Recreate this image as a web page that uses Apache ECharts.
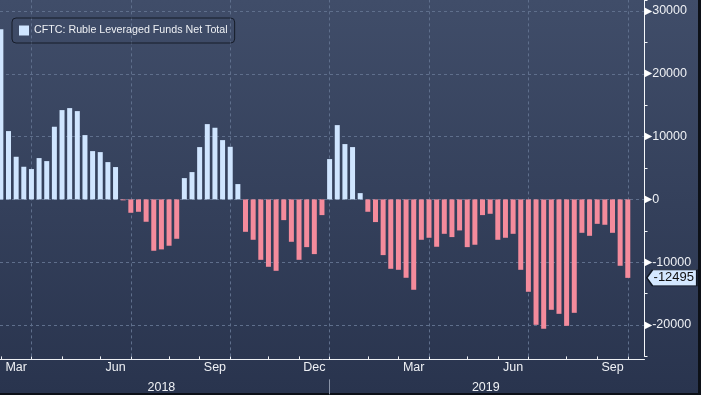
<!DOCTYPE html>
<html><head><meta charset="utf-8">
<script src="https://cdn.jsdelivr.net/npm/echarts@6/dist/echarts.min.js"></script>
<style>
html,body{margin:0;padding:0;background:#0d1118;}
#wrap{position:relative;width:701px;height:395px;overflow:hidden;background:#0d1118;}
#bg{position:absolute;left:0;top:0;width:698px;height:393px;background:linear-gradient(to bottom,#404d69 0%,#29344e 100%);}
#main{position:absolute;left:0;top:0;width:701px;height:395px;}
</style></head><body>
<div id="wrap"><div id="bg"></div><div id="main"></div></div>
<script>
const seriesName = 'CFTC: Ruble Leveraged Funds Net Total';
const dates = [
 '2018-02-27','2018-03-06','2018-03-13','2018-03-20','2018-03-27','2018-04-03','2018-04-10','2018-04-17','2018-04-24',
 '2018-05-01','2018-05-08','2018-05-15','2018-05-22','2018-05-29','2018-06-05','2018-06-12','2018-06-19','2018-06-26',
 '2018-07-03','2018-07-10','2018-07-17','2018-07-24','2018-07-31','2018-08-07','2018-08-14','2018-08-21','2018-08-28',
 '2018-09-04','2018-09-11','2018-09-18','2018-09-25','2018-10-02','2018-10-09','2018-10-16','2018-10-23','2018-10-30',
 '2018-11-06','2018-11-13','2018-11-20','2018-11-27','2018-12-04','2018-12-11','2018-12-18','2018-12-25',
 '2019-01-01','2019-01-08','2019-01-15','2019-01-22','2019-01-29','2019-02-05','2019-02-12','2019-02-19','2019-02-26',
 '2019-03-05','2019-03-12','2019-03-19','2019-03-26','2019-04-02','2019-04-09','2019-04-16','2019-04-23','2019-04-30',
 '2019-05-07','2019-05-14','2019-05-21','2019-05-28','2019-06-04','2019-06-11','2019-06-18','2019-06-25',
 '2019-07-02','2019-07-09','2019-07-16','2019-07-23','2019-07-30','2019-08-06','2019-08-13','2019-08-20','2019-08-27',
 '2019-09-03','2019-09-10','2019-09-17','2019-09-24'
];
const netTotal = [
 27100, 10880, 6790, 5200, 4830, 6580, 6100, 11570, 14220, 14540, 14060, 10240, 7690, 7530, 5940, 5150,
 -150, -2130, -1970, -3560, -8180, -7960, -7380, -6270, 3390, 4350, 8330, 11990, 11410, 9440, 8380, 2440,
 -5160, -6430, -9620, -10730, -11370, -3300, -6750, -9620, -7600, -8710, -2500, 6420, 11830, 8810, 8330, 1000,
 -1970, -3610, -8870, -11050, -11210, -12480, -14390, -6430, -6110, -7540, -5480, -6000, -4940, -7600, -7220,
 -2500, -2290, -6430, -6110, -5480, -11210, -14710, -19970, -20600, -17580, -18220, -20130, -18060,
 -5320, -5800, -3890, -4040, -5320, -10570, -12495
];
const quarterLabels = ['Mar','Jun','Sep','Dec','Mar','Jun','Sep'];
const quarterLabelDates = ['2018-03-13','2018-06-12','2018-09-11','2018-12-11','2019-03-12','2019-06-11','2019-09-10'];
const yearLabels = ['2018','2019'];
const yearLabelDates = ['2018-07-24','2019-05-17'];
const yearBoundaries = ['2018-12-25'];
const yTickLabels = [-20000,-10000,0,10000,20000,30000];

const DAY = 86400000;
const dayOf = s => Math.round((Date.UTC(+s.slice(0,4), +s.slice(5,7) - 1, +s.slice(8,10)) - Date.UTC(+dates[0].slice(0,4), +dates[0].slice(5,7) - 1, +dates[0].slice(8,10))) / DAY);
const POS = '#cfe5ff', NEG = '#f48b9c';
const TXT = '#eef0f4';
const FONT = 'Liberation Sans';
const GRIDC = '#5f6f8c';

const monthTicks = [];
dates.forEach((d, i) => {
  if (i === dates.length - 1 || dates[i + 1].slice(5, 7) !== d.slice(5, 7)) monthTicks.push(d);
});
const quarterTicks = monthTicks.filter(d => ['03','06','09','12'].includes(d.slice(5, 7)));

function lookup(v, keys, labels) {
  let best = 0, bd = Infinity;
  keys.forEach((k, i) => { const dd = Math.abs(dayOf(k) - v); if (dd < bd) { bd = dd; best = i; } });
  return labels[best];
}

const last = dates.length - 1;
const xMin = dayOf(dates[0]) - 0.79;
const xMax = dayOf(dates[last]) + 15.3;

const chart = echarts.init(document.getElementById('main'), null, {renderer: 'canvas'});
chart.setOption({
  animation: false,
  backgroundColor: 'transparent',
  textStyle: {fontFamily: FONT},
  legend: {
    show: true, left: 12, top: 18, padding: [7, 7, 7, 7],
    borderColor: '#161c29', borderWidth: 1, borderRadius: 4,
    icon: 'rect', itemWidth: 10, itemHeight: 10,
    textStyle: {color: TXT, fontSize: 10.7, fontFamily: FONT},
    data: [seriesName]
  },
  grid: {left: 0, right: 56.5, top: 0, bottom: 38.6, containLabel: false},
  xAxis: [{
    type: 'value', min: xMin, max: xMax, offset: 3,
    axisLine: {show: true, onZero: false, lineStyle: {color: TXT, width: 1}},
    axisTick: {show: true, inside: true, length: 3, customValues: monthTicks.map(dayOf), lineStyle: {color: TXT}},
    axisLabel: {show: true, customValues: quarterLabelDates.map(dayOf), margin: 2, color: TXT, fontSize: 12.5, fontFamily: FONT,
      formatter: v => lookup(v, quarterLabelDates, quarterLabels)},
    splitLine: {show: false}
  }, {
    type: 'value', min: xMin, max: xMax, position: 'bottom', offset: 23,
    axisLine: {show: false, onZero: false},
    axisTick: {show: true, length: 15, customValues: yearBoundaries.map(dayOf), lineStyle: {color: '#8a94a8'}},
    axisLabel: {show: true, customValues: yearLabelDates.map(dayOf), margin: 2, color: TXT, fontSize: 12.5, fontFamily: FONT,
      formatter: v => lookup(v, yearLabelDates, yearLabels)},
    splitLine: {show: false}
  }],
  yAxis: {
    type: 'value', position: 'right', min: -25000, max: 31752, interval: 5000,
    axisLine: {show: true, onZero: false, lineStyle: {color: '#f4f6f9', width: 1}},
    axisTick: {show: true, length: 3, lineStyle: {color: '#f4f6f9'}},
    axisLabel: {show: true, margin: 0, color: TXT, fontSize: 12.5, fontFamily: FONT,
      formatter: v => yTickLabels.includes(v) ? '{t|▶}' + v : '',
      rich: {t: {fontSize: 10, color: '#ffffff', fontFamily: 'DejaVu Sans', padding: [0, 0, 0, 0]}}},
    splitLine: {show: true, lineStyle: {type: [3, 3], width: 1, color: ['rgba(0,0,0,0)', GRIDC]}}
  },
  series: [{
    name: seriesName, type: 'bar', xAxisIndex: 0, yAxisIndex: 0,
    barWidth: 5, color: POS, z: 2,
    data: dates.map((d, i) => ({value: [dayOf(d), netTotal[i]], itemStyle: {color: netTotal[i] < 0 ? NEG : POS}})),
    markLine: {
      silent: true, symbol: 'none', z: 1, animation: false,
      label: {show: false},
      lineStyle: {type: [3, 3], color: GRIDC, width: 1},
      data: quarterTicks.map(d => ({xAxis: dayOf(d)}))
    },
    markPoint: {
      silent: true, z: 10, animation: false,
      symbol: 'path://M0,8L6,0L52,0L52,16L6,16Z', symbolSize: [50, 16], symbolOffset: [44, 0], symbolKeepAspect: false,
      itemStyle: {color: '#d4e8ff', borderColor: '#111722', borderWidth: 1},
      label: {show: true, position: 'inside', color: '#101010', fontSize: 13, fontFamily: FONT, offset: [2, 0],
        formatter: p => String(p.value)},
      data: [{coord: [dayOf(dates[last]), netTotal[last]], value: netTotal[last]}]
    }
  }]
});
</script>
</body></html>
